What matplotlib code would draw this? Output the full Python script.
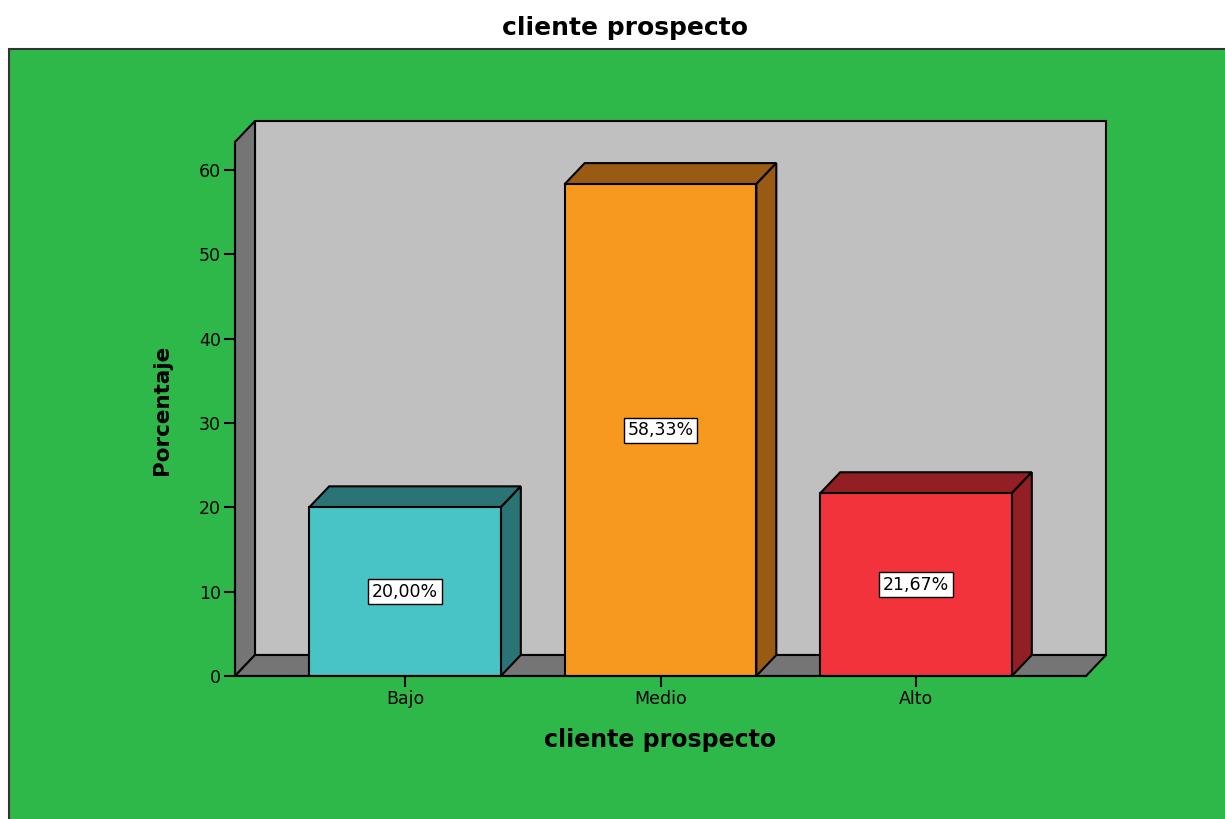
import numpy as np
import matplotlib.pyplot as plt
from matplotlib.patches import Polygon, Rectangle

# ============================================================================
categorias = ["Bajo", "Medio", "Alto"]
porcentajes = [20.00, 58.33, 21.67]
etiquetas = ["20,00%", "58,33%", "21,67%"]
color_frente = ["#48C3C6", "#F7991E", "#F2333B"]
color_lado = ["#2B7475", "#995B13", "#931E23"]
yticks = [0, 10, 20, 30, 40, 50, 60]

plt.rcParams['font.family'] = ['DejaVu Sans']

W, H = 1225, 819
fig = plt.figure(figsize=(W / 100, H / 100), dpi=100, facecolor="white")

# green panel
fig.patches.append(Rectangle((9 / W, -0.01), 1.2, (819 - 49) / H + 0.01,
                             transform=fig.transFigure, facecolor="#2EB84A",
                             edgecolor="#333333", lw=1.5, zorder=-5))

# axes: front plane from x pixel 235 to 1105, y pixel 676 (0) to 121
ax = fig.add_axes([235 / W, 1 - 676 / H, 870 / W, 555 / H])
ax.set_facecolor("none")
px_x = 255.5   # pixels per category
px_y = 8.433   # pixels per percent
x0 = -170 / px_x
x1 = 2 + 170 / px_x
ax.set_xlim(x0, x0 + 870 / px_x)
ax.set_ylim(0, 555 / px_y)
ytop = 555 / px_y
dx = 20 / px_x
dy = 21 / px_y
lw = 1.5

# back wall, left wall, floor
ax.add_patch(Polygon([(x0 + dx, dy), (x1 + dx, dy), (x1 + dx, ytop), (x0 + dx, ytop)],
                     closed=True, fc="#C0C0C0", ec="black", lw=lw, clip_on=False, zorder=1))
ax.add_patch(Polygon([(x0, 0), (x0 + dx, dy), (x0 + dx, ytop), (x0, ytop - dy)],
                     closed=True, fc="#757575", ec="black", lw=lw, clip_on=False, zorder=1))
ax.add_patch(Polygon([(x0, 0), (x1, 0), (x1 + dx, dy), (x0 + dx, dy)],
                     closed=True, fc="#757575", ec="black", lw=lw, clip_on=False, zorder=1))

# bars
bw = 0.75
for i, v in enumerate(porcentajes):
    l = i - bw / 2
    r = i + bw / 2
    ax.add_patch(Polygon([(l, v), (r, v), (r + dx, v + dy), (l + dx, v + dy)],
                         closed=True, fc=color_lado[i], ec="black", lw=lw, zorder=3))
    ax.add_patch(Polygon([(r, 0), (r + dx, dy), (r + dx, v + dy), (r, v)],
                         closed=True, fc=color_lado[i], ec="black", lw=lw, zorder=3))
    ax.add_patch(Rectangle((l, 0), bw, v, fc=color_frente[i], ec="black", lw=lw, zorder=4))
    ax.text(i, v / 2, etiquetas[i], ha="center", va="center", fontsize=12.5, zorder=5,
            bbox=dict(boxstyle="square,pad=0.2", fc="white", ec="black", lw=1))

for s in ["top", "right"]:
    ax.spines[s].set_visible(False)
ax.spines["left"].set_bounds(0, ytop - dy)
ax.spines["bottom"].set_bounds(x0, x1)
ax.spines["left"].set_linewidth(lw)
ax.spines["bottom"].set_linewidth(lw)
ax.spines["left"].set_zorder(6)
ax.spines["bottom"].set_zorder(6)

ax.set_yticks(yticks)
ax.set_xticks(range(len(categorias)))
ax.set_xticklabels(categorias)
ax.tick_params(axis="both", direction="out", length=8, width=1.5, labelsize=12.5, pad=2)

fig.text(625 / W, 1 - 28 / H, "cliente prospecto", ha="center", va="center",
         fontsize=18, fontweight="bold")
fig.text(660 / W, 1 - 740 / H, "cliente prospecto", ha="center", va="center",
         fontsize=17, fontweight="bold")
fig.text(162 / W, 1 - 410 / H, "Porcentaje", ha="center", va="center",
         fontsize=15.5, fontweight="bold", rotation=90)

fig.savefig("out.png", dpi=100)
